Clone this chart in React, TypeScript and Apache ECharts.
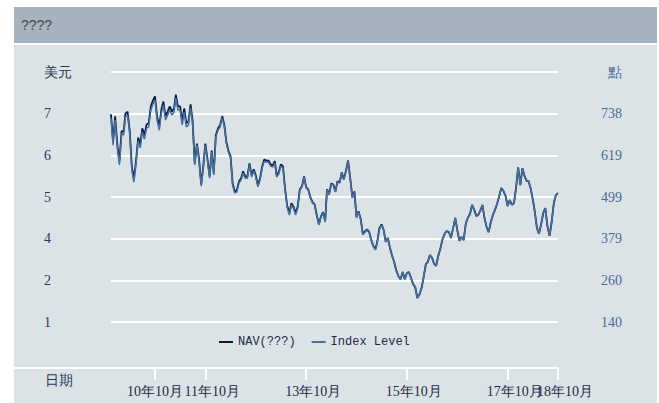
import React, { useEffect, useRef } from "react";
import * as echarts from "echarts";

// Index level (points), semi-monthly observations from 2009-11-16 to 2018-10-01
const indexLevel = [
  726, 648, 720, 640, 591, 680, 677, 729, 734, 680,
  576, 542, 591, 660, 640, 686, 665, 697, 700, 749,
  766, 778, 720, 691, 740, 763, 720, 734, 749, 734,
  743, 783, 749, 749, 706, 743, 700, 706, 755, 706,
  591, 648, 605, 530, 582, 648, 605, 553, 628, 562,
  671, 691, 700, 726, 700, 654, 628, 611, 533, 510,
  513, 539, 548, 568, 553, 553, 591, 556, 574, 556,
  528, 548, 582, 602, 599, 599, 588, 585, 597, 556,
  565, 588, 582, 519, 470, 447, 476, 467, 447, 467,
  519, 528, 556, 525, 519, 496, 482, 476, 447, 418,
  441, 453, 427, 519, 505, 536, 533, 513, 542, 539,
  568, 548, 571, 602, 553, 496, 513, 439, 456, 433,
  390, 398, 404, 396, 373, 355, 347, 370, 407, 418,
  404, 370, 381, 352, 330, 312, 289, 272, 263, 284,
  263, 281, 284, 266, 249, 240, 209, 220, 238, 272,
  306, 312, 332, 324, 306, 301, 330, 352, 378, 393,
  401, 398, 381, 410, 439, 404, 373, 384, 375, 421,
  439, 450, 476, 462, 444, 447, 459, 476, 439, 413,
  398, 427, 447, 462, 479, 502, 525, 516, 502, 473,
  490, 476, 482, 525, 585, 533, 582, 559, 545, 545,
  525, 493, 456, 410, 393, 421, 453, 467, 416, 387,
  427, 482, 505, 510,
];

// NAV in USD, same dates
const navValues = [
  7.18, 6.39, 7.12, 6.31, 5.82, 6.70, 6.69, 7.21, 7.26, 6.70,
  5.67, 5.33, 5.82, 6.51, 6.31, 6.78, 6.57, 6.89, 6.92, 7.41,
  7.58, 7.70, 7.12, 6.83, 7.32, 7.55, 7.12, 7.26, 7.41, 7.26,
  7.35, 7.75, 7.41, 7.41, 6.98, 7.35, 6.92, 6.98, 7.47, 6.98,
  5.77, 6.34, 5.91, 5.16, 5.68, 6.34, 5.91, 5.39, 6.14, 5.48,
  6.58, 6.78, 6.87, 7.13, 6.87, 6.40, 6.14, 5.97, 5.19, 4.96,
  4.99, 5.25, 5.34, 5.54, 5.39, 5.39, 5.77, 5.42, 5.60, 5.42,
  5.14, 5.34, 5.68, 5.88, 5.85, 5.85, 5.74, 5.71, 5.83, 5.42,
  5.51, 5.74, 5.68, 5.05, 4.56, 4.33, 4.62, 4.53, 4.33, 4.53,
  5.02, 5.11, 5.39, 5.08, 5.02, 4.79, 4.65, 4.59, 4.30, 4.01,
  4.24, 4.36, 4.10, 5.02, 4.88, 5.19, 5.16, 4.96, 5.25, 5.22,
  5.51, 5.31, 5.54, 5.85, 5.36, 4.79, 4.96, 4.22, 4.39, 4.16,
  3.73, 3.81, 3.87, 3.79, 3.56, 3.38, 3.30, 3.53, 3.90, 4.01,
  3.85, 3.51, 3.62, 3.33, 3.11, 2.93, 2.69, 2.52, 2.43, 2.64,
  2.43, 2.61, 2.64, 2.46, 2.29, 2.20, 1.89, 2.00, 2.18, 2.52,
  2.87, 2.93, 3.13, 3.05, 2.87, 2.82, 3.11, 3.33, 3.59, 3.74,
  3.82, 3.79, 3.62, 3.91, 4.20, 3.85, 3.54, 3.65, 3.56, 4.02,
  4.20, 4.31, 4.57, 4.43, 4.25, 4.28, 4.40, 4.57, 4.20, 3.94,
  3.79, 4.08, 4.28, 4.43, 4.60, 4.83, 5.06, 4.97, 4.83, 4.54,
  4.71, 4.57, 4.63, 5.06, 5.66, 5.14, 5.63, 5.40, 5.26, 5.26,
  5.06, 4.74, 4.37, 3.91, 3.74, 4.02, 4.34, 4.48, 3.97, 3.68,
  4.08, 4.63, 4.86, 4.91,
];

const tickDates = ["2010-10-01", "2011-10-01", "2013-10-01", "2015-10-01", "2017-10-01", "2018-10-01"];
const tickLabels = ["10年10月", "11年10月", "13年10月", "15年10月", "17年10月", "18年10月"];
const navTicks = [1.2, 2.4, 3.6, 4.8, 6.0, 7.2, 8.4];
const indexTicks = [139.9, 259.58, 379.26, 498.94, 618.62, 738.3, 857.98];
const seriesNames = ["NAV(???)", "Index Level"];

function buildDates(n: number): string[] {
  const out: string[] = [];
  let y = 2009;
  let m = 11;
  let day = 16;
  for (let i = 0; i < n; i++) {
    out.push(`${y}-${String(m).padStart(2, "0")}-${day === 1 ? "01" : "16"}`);
    if (day === 16) {
      day = 1;
      m++;
      if (m > 12) {
        m = 1;
        y++;
      }
    } else {
      day = 16;
    }
  }
  return out;
}

const SERIF = "Liberation Serif";
const X_MIN = Date.parse("2009-11-16");
const X_MAX = Date.parse("2018-10-01");

export default function App() {
  const ref = useRef<HTMLDivElement>(null);

  useEffect(() => {
    if (!ref.current) return;
    const chart = echarts.init(ref.current, undefined, { renderer: "svg" });
    const dates = buildDates(indexLevel.length);
    const tickTimes = tickDates.map((d) => Date.parse(d));
    const lastTick = tickTimes[tickTimes.length - 1];
    const mainTicks = tickTimes.slice(0, -1);

    const labelFor = (v: number) => {
      const i = tickTimes.findIndex((t) => Math.abs(t - v) < 86400000);
      if (i < 0) return "";
      return i === 0 ? `{a|${tickLabels[i]}}` : `{b|${tickLabels[i]}}`;
    };
    const rich = {
      a: { fontFamily: SERIF, fontSize: 14, color: "#1f2a44" },
      b: { fontFamily: SERIF, fontSize: 14, color: "#1f2a44", padding: [0, 0, 0, 14] },
    };

    chart.setOption({
      animation: false,
      backgroundColor: "#ffffff",
      graphic: [
        { type: "rect", z: -10, shape: { x: 14, y: 7, width: 643, height: 36 }, style: { fill: "#a6b2bd" } },
        { type: "rect", z: -10, shape: { x: 14, y: 45, width: 643, height: 358 }, style: { fill: "#dce3e7" } },
        {
          type: "text", x: 21, y: 25, z: 10,
          style: { text: "????", fill: "#4a4a4a", fontFamily: "Liberation Sans", fontSize: 14, verticalAlign: "middle" },
        },
        {
          type: "text", x: 45, y: 380, z: 10,
          style: { text: "日期", fill: "#2b3856", fontFamily: SERIF, fontSize: 14, verticalAlign: "middle" },
        },
        { type: "line", z: 5, shape: { x1: 14, y1: 368, x2: 112, y2: 368 }, style: { stroke: "#ffffff", lineWidth: 2 } },
      ],
      legend: {
        data: seriesNames,
        left: 214,
        top: 331,
        icon: "rect",
        itemWidth: 14,
        itemHeight: 2,
        itemGap: 16,
        textStyle: { fontFamily: "Liberation Mono", fontSize: 12, color: "#1f2a44" },
      },
      grid: { left: 111, right: 101, top: 72, bottom: 81 },
      xAxis: [
        {
          type: "value",
          min: X_MIN,
          max: X_MAX,
          position: "bottom",
          offset: 46,
          axisLine: { show: true, lineStyle: { color: "#ffffff", width: 2 } },
          axisTick: { show: true, length: 12, customValues: tickTimes, lineStyle: { color: "#ffffff", width: 2 } },
          splitLine: { show: false },
          axisLabel: {
            customValues: mainTicks,
            margin: 16,
            hideOverlap: false,
            formatter: labelFor,
            rich,
          },
        },
        {
          type: "value",
          min: X_MIN,
          max: X_MAX,
          position: "bottom",
          offset: 46,
          axisLine: { show: false },
          axisTick: { show: false },
          splitLine: { show: false },
          axisLabel: {
            customValues: [lastTick],
            showMaxLabel: true,
            margin: 16,
            formatter: labelFor,
            rich,
          },
        },
      ],
      yAxis: [
        {
          type: "value",
          position: "left",
          min: navTicks[0],
          max: navTicks[navTicks.length - 1],
          axisLine: { show: false },
          axisTick: { show: false, customValues: navTicks },
          splitLine: { show: false },
          axisLabel: {
            customValues: navTicks,
            showMinLabel: true,
            showMaxLabel: true,
            align: "left",
            margin: 67,
            fontFamily: SERIF,
            fontSize: 14,
            color: "#2b3856",
            formatter: (v: number) => (v > 8 ? "美元" : String(Math.round(v))),
          },
        },
        {
          type: "value",
          position: "right",
          min: indexTicks[0],
          max: indexTicks[indexTicks.length - 1],
          axisLine: { show: false },
          axisTick: { show: false, customValues: indexTicks },
          splitLine: { show: true, lineStyle: { color: "#ffffff", width: 2 } },
          axisLabel: {
            customValues: indexTicks,
            showMinLabel: true,
            showMaxLabel: true,
            align: "right",
            margin: 64,
            fontFamily: SERIF,
            fontSize: 14,
            color: "#4a6a98",
            formatter: (v: number) => (v > 800 ? "點" : String(Math.round(v))),
          },
        },
      ],
      series: [
        {
          name: seriesNames[0],
          type: "line",
          xAxisIndex: 0,
          yAxisIndex: 0,
          showSymbol: false,
          data: dates.map((d, i) => [Date.parse(d), navValues[i]]),
          lineStyle: { width: 1.8, color: "#0a1a45" },
          itemStyle: { color: "#0a1a45" },
        },
        {
          name: seriesNames[1],
          type: "line",
          xAxisIndex: 0,
          yAxisIndex: 1,
          showSymbol: false,
          data: dates.map((d, i) => [Date.parse(d), indexLevel[i]]),
          lineStyle: { width: 1.5, color: "#46709f" },
          itemStyle: { color: "#46709f" },
        },
      ],
    });

    return () => chart.dispose();
  }, []);

  return (
    <div
      ref={ref}
      style={{ position: "fixed", left: 0, top: 0, width: 659, height: 403 }}
    />
  );
}
